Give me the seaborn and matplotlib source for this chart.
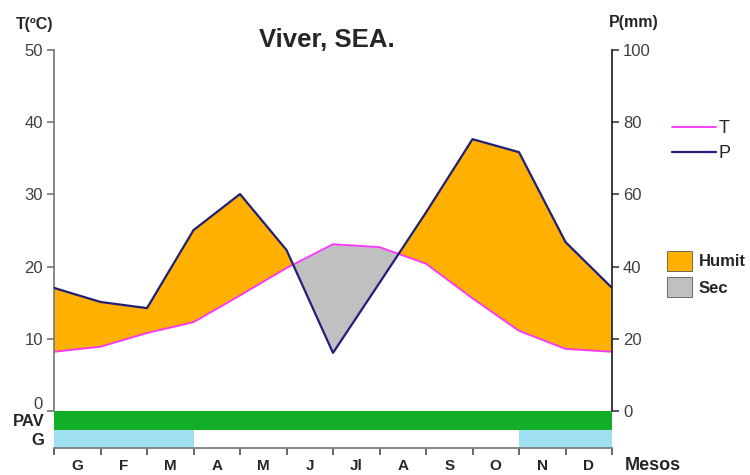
import numpy as np
import pandas as pd
import matplotlib
matplotlib.use("Agg")
import matplotlib.pyplot as plt
import matplotlib.transforms as mtransforms
import seaborn as sns
from matplotlib.lines import Line2D
from matplotlib.patches import Patch

# climate data for Viver
months = ["G", "F", "M", "A", "M", "J", "Jl", "A", "S", "O", "N", "D"]
temp = [8.2, 8.9, 10.8, 12.3, 16.0, 19.8, 23.1, 22.7, 20.4, 15.6, 11.1, 8.6]
precip = [34.1, 30.2, 28.5, 50.1, 60.1, 44.6, 16.1, 35.5, 55.0, 75.3, 71.7, 46.8]
pav = [1, 1, 1, 1, 1, 1, 1, 1, 1, 1, 1, 1]
frost = [1, 1, 1, 0, 0, 0, 0, 0, 0, 0, 1, 1]

ORANGE = "#FFB000"
GREY = "#C0C0C0"
MAGENTA = "#FF33FF"
NAVY = "#202078"
GREEN = "#12AE2A"
LIGHTBLUE = "#9EDFF2"

sns.set_theme(style="white")
plt.rcParams["font.family"] = ["Liberation Sans", "DejaVu Sans"]

# close the year: January repeated at the right edge
df = pd.DataFrame({
    "pos": np.arange(13),
    "T": temp + temp[:1],
    "P": precip + precip[:1],
})
df["P_half"] = df["P"] / 2

fig = plt.figure(figsize=(7.5, 4.75), dpi=100)
ax = fig.add_axes([54 / 750, 1 - 411 / 475, 558 / 750, 361 / 475])
ax_p = ax.twinx()
strip = fig.add_axes([54 / 750, 1 - 448 / 475, 558 / 750, 37 / 475])

# humid / dry areas
ax.fill_between(df["pos"], df["T"], df["P_half"], where=df["P_half"] >= df["T"],
                interpolate=True, color=ORANGE, linewidth=0)
ax.fill_between(df["pos"], df["T"], df["P_half"], where=df["P_half"] <= df["T"],
                interpolate=True, color=GREY, linewidth=0)

sns.lineplot(data=df, x="pos", y="T", ax=ax, color=MAGENTA, linewidth=1.3)
sns.lineplot(data=df, x="pos", y="P", ax=ax_p, color=NAVY, linewidth=1.6)

ax.set_xlim(0, 12)
ax.set_ylim(0, 50)
ax_p.set_ylim(0, 100)
ax.set_yticks(range(0, 51, 10))
ax_p.set_yticks(range(0, 101, 20))
ax.set_xticks([])
ax.set_xlabel("")
ax.set_ylabel("")
ax_p.set_ylabel("")

for a in (ax, ax_p):
    for s in ("top", "bottom"):
        a.spines[s].set_visible(False)
ax.spines["right"].set_visible(False)
ax_p.spines["left"].set_visible(False)
ax.spines["left"].set_color("#7a7a7a")
ax_p.spines["right"].set_color("#222222")
ax.tick_params(axis="y", left=True, length=5, color="#7a7a7a", labelsize=12,
               labelcolor="#404040", pad=3)
ax_p.tick_params(axis="y", right=True, length=5, color="#444444", labelsize=12,
                 labelcolor="#404040", pad=3)

# lift the left "0" a little so it clears the PAV label
fig.canvas.draw()
zero_label = ax.get_yticklabels()[0]
zero_label.set_transform(zero_label.get_transform() +
                         mtransforms.ScaledTranslation(0, 8 / 100, fig.dpi_scale_trans))

# frost strip
strip.barh([1.5] * 12, pav, left=np.arange(12), height=1, align="center",
           color=[GREEN if v else "white" for v in pav], linewidth=0)
strip.barh([0.5] * 12, frost, left=np.arange(12), height=1, align="center",
           color=[LIGHTBLUE if v else "white" for v in frost], linewidth=0)
strip.set_xlim(0, 12)
strip.set_ylim(0, 2)
for s in ("top", "left", "right"):
    strip.spines[s].set_visible(False)
strip.spines["bottom"].set_color("#7a7a7a")
strip.set_yticks([1.5, 0.5])
strip.set_yticklabels(["PAV", "G"], fontweight="bold", fontsize=12)
strip.tick_params(axis="y", left=False, length=0, pad=7)
strip.set_xticks(np.arange(13))
strip.set_xticklabels([])
strip.set_xticks(np.arange(12) + 0.5, minor=True)
strip.set_xticklabels(months, minor=True, fontweight="bold", fontsize=11)
strip.tick_params(axis="x", which="major", bottom=True, length=5, color="#555555")
strip.tick_params(axis="x", which="minor", bottom=False, length=0, pad=8)

# texts
fig.text(327 / 750, 1 - 40 / 475, "Viver, SEA.", ha="center", va="center",
         fontsize=18.5, fontweight="bold")
fig.text(35 / 750, 1 - 24 / 475, "T(ºC)", ha="center", va="center",
         fontsize=11.5, fontweight="bold")
fig.text(634 / 750, 1 - 22 / 475, "P(mm)", ha="center", va="center",
         fontsize=11.5, fontweight="bold")
fig.text(653 / 750, 1 - 466 / 475, "Mesos", ha="center", va="center",
         fontsize=13, fontweight="bold")

line_handles = [Line2D([0], [0], color=MAGENTA, lw=1.3),
                Line2D([0], [0], color=NAVY, lw=1.6)]
fig.legend(line_handles, ["T", "P"], loc="center left",
           bbox_to_anchor=(656 / 750, 1 - 141 / 475), frameon=False,
           handlelength=2.4, handletextpad=0.15, labelspacing=0.45, fontsize=13)

patch_handles = [Patch(facecolor=ORANGE, edgecolor="#555555", lw=0.6),
                 Patch(facecolor=GREY, edgecolor="#555555", lw=0.6)]
fig.legend(patch_handles, ["Humit", "Sec"], loc="center left",
           bbox_to_anchor=(652 / 750, 1 - 274 / 475), frameon=False,
           handlelength=1.5, handleheight=1.5, handletextpad=0.4,
           labelspacing=0.35, prop={"weight": "bold", "size": 12})

fig.savefig("out.png", dpi=100)
